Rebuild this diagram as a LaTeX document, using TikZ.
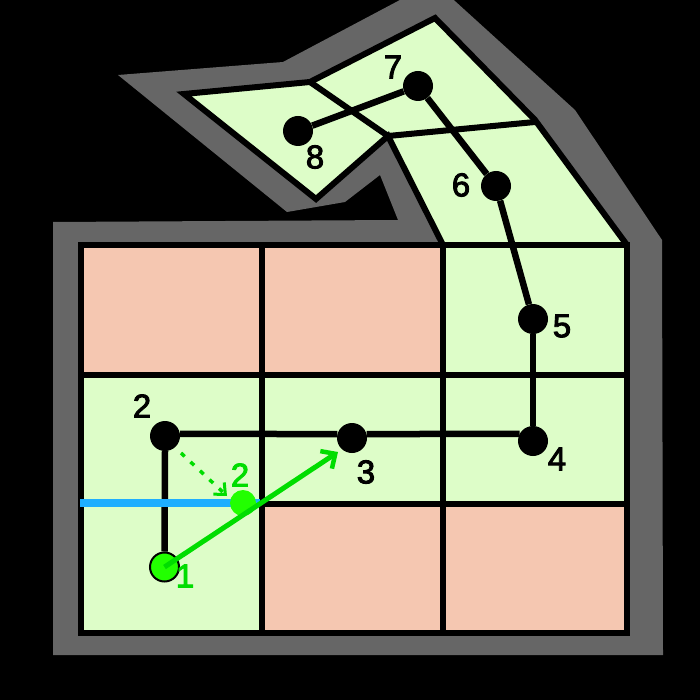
\documentclass[tikz,border=0pt]{standalone}
\usepackage{fontspec}
\setmainfont{Liberation Sans}
\newcommand{\strokenum}[1]{\special{pdf:code q 2 Tr 0.9 w}#1\special{pdf:code Q}}
\usetikzlibrary{arrows.meta}
\definecolor{wallgray}{HTML}{666666}
\definecolor{freegreen}{HTML}{DDFDC8}
\definecolor{blocked}{HTML}{F5C7B1}
\definecolor{bluewall}{HTML}{1EAEFF}
\definecolor{moveline}{HTML}{00DD00}
\definecolor{movefill}{HTML}{22FF00}
\tikzset{
  x=1pt,y=-1pt,
  wallline/.style={line width=6pt,black,line join=miter},
  pathline/.style={line width=6.5pt,black},
  waypoint/.style={circle,fill=black,minimum size=30pt,inner sep=0pt},
  lab/.style={font=\fontsize{33}{33}\selectfont,inner sep=0pt,text=black},
  glab/.style={lab,text=moveline},
  movearrow/.style={line width=5pt,moveline,-{Straight Barb[length=11pt,width=21pt,line width=4.5pt]}},
  dotarrow/.style={line width=3.5pt,moveline,dash pattern=on 5pt off 8pt,-{Straight Barb[length=9pt,width=16pt,line width=3pt]}}
}
\begin{document}
\begin{tikzpicture}
\useasboundingbox (0,0) rectangle (700,700);
\clip (0,0) rectangle (700,700);
\fill[black] (0,0) rectangle (700,700);
% outer grey wall
\fill[wallgray] (118,75) -- (283,62) -- (415,-8) -- (445,-8) -- (575,110) -- (662,240) -- (663,655) -- (53,655) -- (53,222) -- (398,220) -- (380,175) -- (345,202) -- (287,212) -- cycle;
% free area
\fill[freegreen] (81,245) rectangle (627,632);
\fill[freegreen] (443,245) -- (390,137) -- (316,199) -- (184,94) -- (310,82) -- (435,18) -- (535,120) -- (627,245) -- cycle;
% blocked cells
\fill[blocked] (81,245) rectangle (443,374);
\fill[blocked] (262,503) rectangle (627,632);
% walls
\draw[wallline] (81,245.5) rectangle (627,632.5);
\draw[wallline] (81,374.5) -- (627,374.5);
\draw[wallline] (262,503.5) -- (627,503.5);
\draw[wallline] (262,245) -- (262,632);
\draw[wallline] (443,245) -- (443,632);
\draw[wallline] (443,245) -- (388,136) -- (316,199) -- (184,94) -- (310,82) -- (435,18) -- (535,120) -- (627,245);
\draw[wallline] (310,82) -- (388,136) -- (535,122);
% waypoints
\node[circle,fill=movefill,draw=black,line width=2pt,minimum size=29pt,inner sep=0pt] (n1) at (164.5,567) {};
\node[waypoint] (n2) at (165,436) {};
\node[waypoint] (n3) at (352,438) {};
\node[waypoint] (n4) at (533,441) {};
\node[waypoint] (n5) at (533,319) {};
\node[waypoint] (n6) at (496,186) {};
\node[waypoint] (n7) at (418,86) {};
\node[waypoint] (n8) at (298,131) {};
% path
\draw[pathline] (n2.south) -- (n1.north);
\draw[pathline] (n2.8) -- (n3.165);
\draw[pathline] (n3.15) -- (n4.152);
\draw[pathline] (n4.north) -- (n5.south);
\draw[pathline] (n5) -- (n6);
\draw[pathline] (n6) -- (n7);
\draw[pathline] (n7) -- (n8);
% highlighted wall
\coordinate (bluea) at (80,503);
\coordinate (blueb) at (260,503);
\draw[line width=7.5pt,bluewall] (bluea) -- (blueb);
% moved point and arrows
\node[circle,fill=movefill,minimum size=26pt,inner sep=0pt] (g2) at (243,503) {};
\coordinate (arrowend) at (338,452);
\coordinate (dotstart) at (181,453);
\coordinate (dotend) at (227,496);
\draw[movearrow] (n1.center) -- (arrowend);
\draw[dotarrow] (dotstart) -- (dotend);
% labels
\node[lab] (l2) at (142,406) {\strokenum{2}};
\node[lab] (l3) at (366,472) {\strokenum{3}};
\node[lab] (l4) at (557,459) {\strokenum{4}};
\node[lab] (l5) at (562,326) {\strokenum{5}};
\node[lab] (l6) at (461,185) {\strokenum{6}};
\node[lab] (l7) at (393,67) {\strokenum{7}};
\node[lab] (l8) at (315,157) {\strokenum{8}};
\node[glab] (lg1) at (185,576) {\strokenum{1}};
\node[glab] (lg2) at (240,475) {\strokenum{2}};
\end{tikzpicture}
\end{document}
